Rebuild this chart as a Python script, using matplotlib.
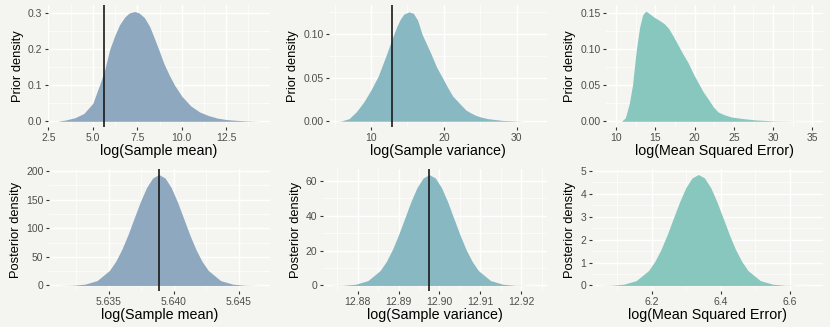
import matplotlib
matplotlib.use("Agg")
import matplotlib.pyplot as plt
from matplotlib.ticker import AutoMinorLocator

plt.rcParams["font.family"] = ["Liberation Sans", "DejaVu Sans"]

# prior, log(sample mean)
prior_mean_x = [3.0, 3.5, 4.0, 4.5, 5.0, 5.37, 5.64, 5.95, 6.25, 6.5, 6.8, 7.05, 7.35, 7.6, 7.9,
                8.2, 8.45, 8.7, 9.0, 9.3, 9.6, 10.0, 10.5, 11.0, 11.5, 12.0, 12.5, 13.0, 13.5, 14.0, 14.5]
prior_mean_y = [0.0, 0.004, 0.01, 0.022, 0.05, 0.1, 0.138, 0.2, 0.24, 0.268, 0.29, 0.301, 0.305, 0.301, 0.288,
                0.263, 0.232, 0.2, 0.16, 0.128, 0.1, 0.07, 0.043, 0.026, 0.016, 0.009, 0.005, 0.003, 0.0015, 0.0005, 0.0]

# prior, log(sample variance)
prior_var_x = [5.5, 6, 7, 8, 9, 10, 11, 12, 12.9, 13.5, 14, 14.5, 15.2, 15.8, 16.4, 17, 17.6, 18.2, 19,
               19.8, 20.5, 21.2, 22.2, 23, 23.6, 24.3, 25, 26, 27, 28, 30, 31]
prior_var_y = [0.0, 0.0005, 0.003, 0.011, 0.022, 0.036, 0.052, 0.074, 0.095, 0.108, 0.117, 0.123, 0.1256, 0.124,
               0.116, 0.10, 0.089, 0.078, 0.062, 0.05, 0.039, 0.029, 0.02, 0.013, 0.01, 0.007, 0.005, 0.003,
               0.002, 0.001, 0.0003, 0.0]

# prior, log(MSE)
prior_mse_x = [10.7, 11.2, 11.7, 12.1, 12.6, 13.0, 13.4, 13.8, 14.2, 14.8, 15.4, 16.1, 16.7, 17.3, 17.9, 18.5,
               19.2, 19.8, 20.5, 21.1, 21.8, 22.4, 23.0, 23.8, 24.7, 26.0, 27.7, 30.2, 33.0, 35.3]
prior_mse_y = [0.0, 0.005, 0.025, 0.05, 0.10, 0.13, 0.148, 0.153, 0.150, 0.145, 0.141, 0.136, 0.129, 0.118,
               0.106, 0.094, 0.081, 0.067, 0.053, 0.041, 0.030, 0.020, 0.013, 0.009, 0.006, 0.004, 0.002,
               0.0005, 0.0001, 0.0]

# posterior, log(sample mean)
post_mean_x = [5.63125, 5.63220, 5.63315, 5.63410, 5.63505, 5.635525, 5.63600, 5.636475, 5.63695, 5.637425,
               5.63790, 5.638375, 5.63885, 5.639325, 5.63980, 5.640275, 5.64075, 5.641225, 5.64170, 5.642175,
               5.64265, 5.64360, 5.64455, 5.64550, 5.64645, 5.64670]
post_mean_y = [0.06, 0.4, 2.2, 8.5, 26.3, 42.0, 63.0, 88.8, 117.7, 146.4, 171.2, 188.0, 194.0, 188.0, 171.2,
               146.4, 117.7, 88.8, 63.0, 42.0, 26.3, 8.5, 2.2, 0.4, 0.06, 0.03]

# posterior, log(sample variance)
post_var_x = [12.8735, 12.8765, 12.8795, 12.8825, 12.8855, 12.887, 12.8885, 12.89, 12.8915, 12.893, 12.8945,
              12.896, 12.8975, 12.899, 12.9005, 12.902, 12.9035, 12.905, 12.9065, 12.908, 12.9095, 12.9125,
              12.9155, 12.9185, 12.9215, 12.9238]
post_var_y = [0.02, 0.14, 0.7, 2.8, 8.6, 13.8, 20.7, 29.2, 38.6, 48.1, 56.2, 61.7, 63.7, 61.7, 56.2, 48.1,
              38.6, 29.2, 20.7, 13.8, 8.6, 2.8, 0.7, 0.14, 0.02, 0.005]

# posterior, log(MSE)
post_mse_x = [6.047, 6.083, 6.119, 6.155, 6.191, 6.209, 6.227, 6.245, 6.263, 6.281, 6.299, 6.317, 6.335,
              6.353, 6.371, 6.389, 6.407, 6.425, 6.443, 6.461, 6.479, 6.515, 6.551, 6.587, 6.623, 6.668]
post_mse_y = [0.0015, 0.011, 0.054, 0.21, 0.65, 1.05, 1.57, 2.22, 2.94, 3.65, 4.27, 4.69, 4.84, 4.69, 4.27,
              3.65, 2.94, 2.22, 1.57, 1.05, 0.65, 0.21, 0.054, 0.011, 0.0015, 0.0002]

observed_mean = 5.63885
observed_var = 12.8975

xticks = [[2.5, 5.0, 7.5, 10.0, 12.5], [10, 20, 30], [10, 15, 20, 25, 30, 35],
          [5.635, 5.640, 5.645], [12.88, 12.89, 12.90, 12.91, 12.92], [6.2, 6.4, 6.6]]
xticklabels = [["2.5", "5.0", "7.5", "10.0", "12.5"], ["10", "20", "30"], ["10", "15", "20", "25", "30", "35"],
               ["5.635", "5.640", "5.645"], ["12.88", "12.89", "12.90", "12.91", "12.92"], ["6.2", "6.4", "6.6"]]
yticks = [[0.0, 0.1, 0.2, 0.3], [0.00, 0.05, 0.10], [0.00, 0.05, 0.10, 0.15],
          [0, 50, 100, 150, 200], [0, 20, 40, 60], [0, 1, 2, 3, 4, 5]]
yticklabels = [["0.0", "0.1", "0.2", "0.3"], ["0.00", "0.05", "0.10"], ["0.00", "0.05", "0.10", "0.15"],
               ["0", "50", "100", "150", "200"], ["0", "20", "40", "60"], ["0", "1", "2", "3", "4", "5"]]
xlabels = ["log(Sample mean)", "log(Sample variance)", "log(Mean Squared Error)"] * 2
ylabels = ["Prior density"] * 3 + ["Posterior density"] * 3

colors = ["#8ea8c0", "#88b8c1", "#88c7bd"] * 2
bg = "#f4f4f0"

W, H = 830, 327
# panel boxes in pixels: left, top, right, bottom
boxes = [(48, 5, 270, 127), (329, 5, 546.5, 127), (606, 5, 823, 127),
         (49, 169, 270, 291), (323, 169, 546.5, 291), (592, 169, 823, 291)]
xlims = [(2.48, 14.96), (4.24, 34.07), (8.73, 36.36),
         (5.6304, 5.6474), (12.8715, 12.9262), (6.027, 6.6965)]
ylims = [(-0.0158, 0.3231), (-0.0066, 0.1335), (-0.0079, 0.1615),
         (-9.7, 203.7), (-3.19, 66.9), (-0.242, 5.08)]

curves = [(prior_mean_x, prior_mean_y), (prior_var_x, prior_var_y), (prior_mse_x, prior_mse_y),
          (post_mean_x, post_mean_y), (post_var_x, post_var_y), (post_mse_x, post_mse_y)]
vlines = [observed_mean, observed_var, None, observed_mean, observed_var, None]

fig = plt.figure(figsize=(W / 100, H / 100), dpi=100)
fig.patch.set_facecolor(bg)

for i in range(6):
    l, t, r, b = boxes[i]
    ax = fig.add_axes([l / W, 1 - b / H, (r - l) / W, (b - t) / H])
    ax.set_facecolor(bg)
    for s in ax.spines.values():
        s.set_visible(False)

    x, y = curves[i]
    ax.fill_between(x, 0, y, color=colors[i], linewidth=0, zorder=2)
    if vlines[i] is not None:
        ax.axvline(vlines[i], color="#1a1a1a", linewidth=1.2, zorder=3)

    ax.set_xlim(*xlims[i])
    ax.set_ylim(*ylims[i])
    ax.set_xticks(xticks[i])
    ax.set_xticklabels(xticklabels[i])
    ax.set_yticks(yticks[i])
    ax.set_yticklabels(yticklabels[i])
    ax.xaxis.set_minor_locator(AutoMinorLocator(2))
    ax.yaxis.set_minor_locator(AutoMinorLocator(2))

    ax.grid(True, which="major", color="white", linewidth=1.0, zorder=0)
    ax.grid(True, which="minor", color="white", linewidth=0.5, zorder=0)
    ax.set_axisbelow(True)
    ax.tick_params(which="major", length=2.5, width=0.8, color="#333333",
                   labelsize=7.5, labelcolor="#4d4d4d", pad=1.5)
    ax.tick_params(which="minor", length=0)

    ax.set_xlabel(xlabels[i], fontsize=10.3, color="black", labelpad=1.0)
    ax.set_ylabel(ylabels[i], fontsize=9.3, color="black", labelpad=3)

fig.savefig("out.png", dpi=100, facecolor=bg)
